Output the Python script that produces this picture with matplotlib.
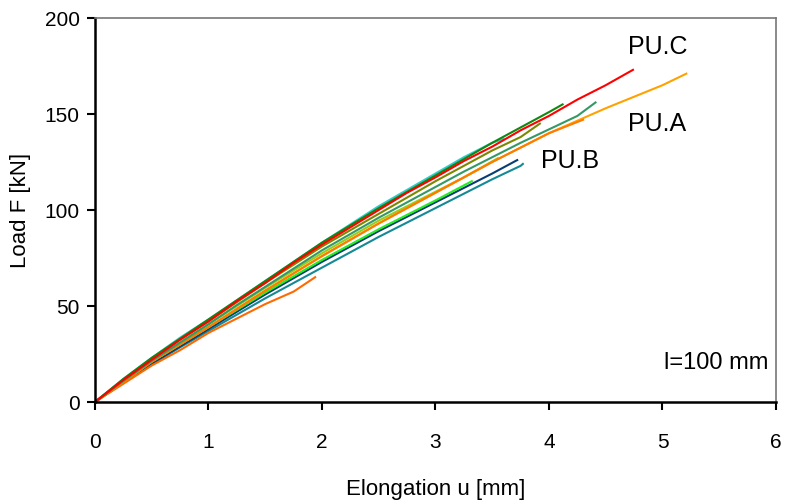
import matplotlib
matplotlib.use('Agg')
import matplotlib.pyplot as plt

plt.rcParams['font.family'] = ['Liberation Sans Narrow', 'DejaVu Sans Condensed', 'Liberation Sans', 'DejaVu Sans']
plt.rcParams['font.stretch'] = 'condensed'

# elongation grid [mm], step 0.25
u_grid = [0, 0.25, 0.5, 0.75, 1, 1.25, 1.5, 1.75, 2, 2.25, 2.5, 2.75, 3,
          3.25, 3.5, 3.75, 4, 4.25, 4.5, 4.75, 5]

# load values [kN], plus the last point of each test
F_teal = [0, 10, 19.5, 28.5, 37, 45.5, 54, 62, 70, 78, 86, 93.5, 101, 108.5, 116, 123]
end_teal = (3.77, 124)
F_navy = [0, 10.5, 20, 29, 38, 47, 56, 64.5, 73, 81, 89, 96.5, 104, 111.5, 119]
end_navy = (3.72, 126)
F_lime = [0, 10.5, 21, 30, 39, 48, 57, 65.5, 74, 82, 90, 97.5, 105]
end_lime = (3.32, 115)
F_ygreen = [0, 11, 22, 31, 40.5, 50, 59.5, 68.5, 77.5, 86, 94.5, 102, 109.5, 117]
end_ygreen = (3.55, 127)
F_short = [0, 9.5, 19, 27, 36, 43.5, 51, 57.5]
end_short = (1.94, 65)
F_orange2 = [0, 10.5, 21, 30, 39, 48.5, 58, 67, 76, 84.5, 93, 101, 109, 117, 125, 132.5, 140]
end_orange2 = (4.3, 147)
F_orange = [0, 10.5, 21, 30, 39, 48.5, 58, 67, 76, 84.5, 93, 101, 109, 117, 125, 132.5, 140,
            146.5, 153, 159, 165]
end_orange = (5.21, 171)
F_seagreen = [0, 11, 21.5, 31, 40.5, 50.5, 60, 69.5, 79, 87.5, 96, 104, 112, 120, 127.5, 135, 142, 149]
end_seagreen = (4.41, 156)
F_olive = [0, 11.5, 22.5, 32.5, 42, 52, 62, 71.5, 81, 89.5, 98, 106.5, 115, 123, 131, 138]
end_olive = (3.92, 145)
F_cyan = [0, 12, 23, 33.5, 43, 53, 63, 73, 83, 92.5, 102, 110.5, 119, 127.5, 135]
end_cyan = (3.6, 137)
F_green = [0, 12, 23, 33, 43, 53, 63, 73, 83, 92, 101, 109.5, 118, 126.5, 135, 143, 151]
end_green = (4.12, 155)
F_red = [0, 11.5, 22, 32.5, 42, 52.5, 62, 72.5, 82, 91, 100, 109, 117, 125.5, 133, 141.5,
         149, 157.5, 165]
end_red = (4.74, 173)

curves = [
    (F_teal, end_teal, '#138a96'),
    (F_navy, end_navy, '#0b3d73'),
    (F_lime, end_lime, '#22ee22'),
    (F_ygreen, end_ygreen, '#9acd1a'),
    (F_short, end_short, '#ff6a00'),
    (F_orange, end_orange, '#ffa200'),
    (F_orange2, end_orange2, '#ff7a00'),
    (F_seagreen, end_seagreen, '#339966'),
    (F_olive, end_olive, '#7a8a00'),
    (F_cyan, end_cyan, '#33cccc'),
    (F_green, end_green, '#118811'),
    (F_red, end_red, '#ff0000'),
]

fig = plt.figure(figsize=(7.87, 5.0), dpi=100)
ax = fig.add_axes([0.1207, 0.196, 0.8653, 0.768])

for F, end, col in curves:
    u = u_grid[:len(F)] + [end[0]]
    ax.plot(u, F + [end[1]], color=col, lw=1.5)

ax.set_xlim(0, 6)
ax.set_ylim(0, 200)
ax.set_xticks(range(0, 7))
ax.set_yticks(range(0, 201, 50))

for s in ['left', 'bottom']:
    ax.spines[s].set_linewidth(1.8)
    ax.spines[s].set_color('black')
for s in ['top', 'right']:
    ax.spines[s].set_linewidth(1.2)
    ax.spines[s].set_color('#777777')

ax.tick_params(direction='out', length=6, width=1.5, labelsize=15, pad=5)
ax.tick_params(axis='x', pad=16)

ax.set_xlabel('Elongation u [mm]', fontsize=16, labelpad=20)
ax.set_ylabel('Load F [kN]', fontsize=16, labelpad=10)

ax.text(4.70, 185, 'PU.C', fontsize=18, va='center')
ax.text(4.70, 145, 'PU.A', fontsize=18, va='center')
ax.text(3.93, 125.5, 'PU.B', fontsize=18, va='center')
ax.text(5.93, 20.3, 'l=100 mm', fontsize=17, va='center', ha='right')

fig.savefig('out.png', dpi=100)
